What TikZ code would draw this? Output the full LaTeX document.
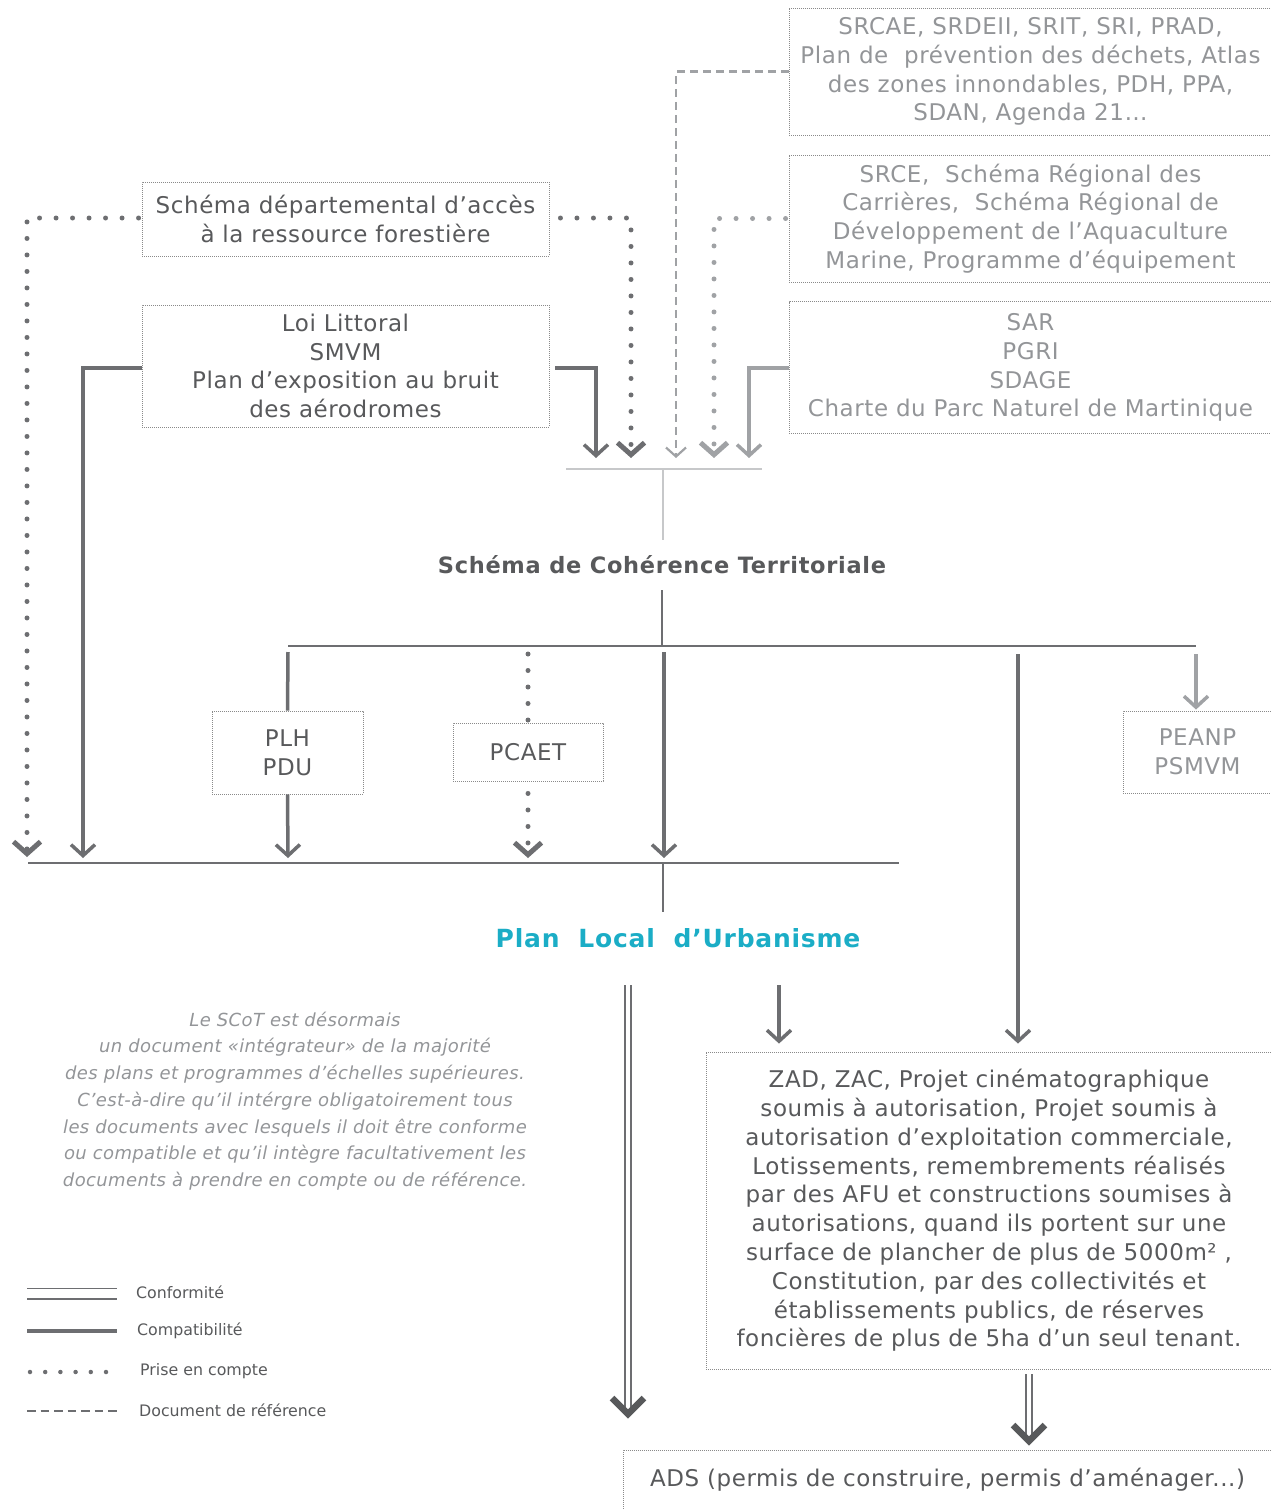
\documentclass[tikz,border=0pt]{standalone}
\usepackage{fontspec}
\setmainfont{DejaVu Sans}
\usetikzlibrary{arrows.meta,calc}
\definecolor{txtdark}{HTML}{58595B}
\definecolor{txtgray}{HTML}{939598}
\definecolor{compc}{HTML}{6D6E71}
\definecolor{lightc}{HTML}{A0A2A5}
\definecolor{boxc}{HTML}{8A8A8A}
\definecolor{tealc}{HTML}{1BADC6}
\definecolor{barlight}{HTML}{C7C8CA}
\definecolor{chevc}{HTML}{58595B}
\newfontfamily\boxfam[LetterSpace=2.5]{DejaVu Sans}
\newfontfamily\titlefam[LetterSpace=3]{DejaVu Sans}
\newfontfamily\notefam[LetterSpace=2]{DejaVu Sans}
\tikzset{
  box/.style={draw=boxc, line width=0.9pt, dash pattern=on 0.9pt off 1.1pt, inner sep=0pt, align=center, font={\boxfam\fontsize{23}{28.8}\selectfont}},
  darktxt/.style={text=txtdark},
  graytxt/.style={text=txtgray},
  comp/.style={draw=compc, line width=3.5pt, -{Straight Barb[sharp,length=11pt,width=24pt]}},
  complight/.style={comp, draw=lightc},
  pec/.style={draw=compc, line width=5pt, line cap=round, dash pattern=on 0pt off 16.5pt, -{Straight Barb[sharp,length=12pt,width=27pt,line width=5pt]}},
  peclight/.style={pec, draw=lightc},
  docref/.style={draw=lightc, line width=2.5pt, dash pattern=on 8pt off 5pt, -{Straight Barb[sharp,length=9pt,width=20pt,line width=2.2pt]}},
  conf/.style={draw=compc, line width=1.3pt, double=white, double distance=4.7pt},
  chev/.style={draw=chevc, line width=6.5pt, line cap=butt, line join=miter},
  bar/.style={draw=compc, line width=1.5pt},
  barl/.style={draw=barlight, line width=1.8pt},
  legtxt/.style={text=txtdark, anchor=west, inner sep=0pt, font={\fontsize{15.8}{18}\selectfont}},
}
\begin{document}
\begin{tikzpicture}[x=1pt,y=-1pt]
\useasboundingbox (0,0) rectangle (1270,1510);

% source boxes
\node[box, graytxt, minimum width=483pt, minimum height=127pt] (src1) at (1030.5,71.5)
  {SRCAE, SRDEII, SRIT, SRI, PRAD,\\Plan de\ \ prévention des déchets, Atlas\\des zones innondables, PDH, PPA,\\SDAN, Agenda 21…};
\node[box, graytxt, minimum width=483pt, minimum height=127pt] (src2) at (1030.5,218.5)
  {SRCE,\ \ Schéma Régional des\\Carrières,\ \ Schéma Régional de\\Développement de l’Aquaculture\\Marine, Programme d’équipement};
\node[box, graytxt, minimum width=483pt, minimum height=132pt] (src3) at (1030.5,367.5)
  {SAR\\PGRI\\SDAGE\\Charte du Parc Naturel de Martinique};
\node[box, darktxt, minimum width=407pt, minimum height=74pt] (sdf) at (345.5,219)
  {Schéma départemental d’accès\\à la ressource forestière};
\node[box, darktxt, minimum width=407pt, minimum height=122pt] (loi) at (345.5,366)
  {Loi Littoral\\SMVM\\Plan d’exposition au bruit\\des aérodromes};

% central nodes
\node[text=txtdark, font={\titlefam\fontsize{22.5}{26}\selectfont\bfseries}, minimum height=50pt, inner sep=0pt] (scot) at (662,565) {Schéma de Cohérence Territoriale};
\node[text=tealc, font={\titlefam\fontsize{25}{30}\selectfont\bfseries}, minimum height=52pt, inner sep=0pt] (plu) at (678,938) {Plan\ \ Local\ \ d’Urbanisme};

% middle boxes
\node[box, darktxt, minimum width=151pt, minimum height=83pt] (plh) at (287.5,752.5) {PLH\\PDU};
\node[box, darktxt, minimum width=150pt, minimum height=58pt] (pcaet) at (528,752) {PCAET};
\node[box, graytxt, minimum width=149pt, minimum height=82pt] (peanp) at (1197.5,752) {PEANP\\PSMVM};

% bottom boxes
\node[box, darktxt, minimum width=566pt, minimum height=317pt] (zad) at (989,1210.5)
  {ZAD, ZAC, Projet cinématographique\\soumis à autorisation, Projet soumis à\\autorisation d’exploitation commerciale,\\Lotissements, remembrements réalisés\\par des AFU et constructions soumises à\\autorisations, quand ils portent sur une\\surface de plancher de plus de 5000m²\ ,\\Constitution, par des collectivités et\\établissements publics, de réserves\\foncières de plus de 5ha d’un seul tenant.};
\node[box, darktxt, minimum width=649pt, minimum height=60pt] (ads) at (947.5,1480)
  {ADS (permis de construire, permis d’aménager...)};

% coordinates
\coordinate (t1) at (27,857);
\coordinate (t2) at (631,458);
\coordinate (t3) at (83,858);
\coordinate (t4) at (596,458);
\coordinate (t5) at (676,458);
\coordinate (t6) at (714,458);
\coordinate (t7) at (749,458);
\coordinate (barAL) at (566,469);
\coordinate (barAR) at (762,469);
\coordinate (barBL) at (288,646);
\coordinate (barBR) at (1196,646);
\coordinate (barCL) at (28,863);
\coordinate (barCR) at (899,863);
\coordinate (bPLH) at (288,858);
\coordinate (bPC) at (528,858);
\coordinate (bMid) at (664,858);
\coordinate (dbl1s) at (628,985);
\coordinate (dbl1e) at (628,1410);
\coordinate (zadin) at (779,985);

% connectors into the SCoT
\draw[pec] ([xshift=-3pt]sdf.west |- 0,218) -| (t1);
\draw[pec] ([xshift=11pt]sdf.east |- 0,218) -| (t2);
\draw[comp] (loi.west |- 0,368) -| (t3);
\draw[comp] ([xshift=6pt]loi.east |- 0,368) -| (t4);
\draw[docref] (src1.west) -| (t5);
\draw[peclight] ([xshift=-3pt]src2.west) -| (t6);
\draw[complight] (src3.west |- 0,368) -| (t7);

\draw[barl] (barAL) -- (barAR);
\draw[barl, line width=1.2pt] (663,469) -- (scot.north -| 663,0);
\draw[bar] (scot.south) -- (scot.south |- barBL);
\draw[bar] (barBL) -- (barBR);

% from the SCoT
\draw[comp, -] ([yshift=-6pt]barBL) -- (plh.north);
\draw[pec, -] (528,654) -- (pcaet.north);
\draw[comp] (664,652) -- (bMid);
\draw[comp, shorten >=8pt] (1018,654) -- (zad.north -| 1018,0);
\draw[complight, shorten >=1pt] (1196,654) -- (peanp.north -| 1196,0);
\draw[comp] (plh.south) -- (bPLH);
\draw[pec] ([yshift=-12pt]pcaet.south) -- (bPC);

\draw[bar, line width=2pt] (barCL) -- (barCR);
\draw[bar, line width=1.2pt] (663,863) -- (plu.north -| 663,0);

% from the PLU
\draw[conf] (dbl1s) -- (dbl1e);
\draw[chev] ([shift={(-16,-16)}]628,1414) -- (628,1414) -- ([shift={(16,-16)}]628,1414);
\draw[comp, shorten >=8pt] (zadin) -- (zad.north -| zadin);
\draw[conf, shorten <=5pt, shorten >=10pt] (zad.south -| 1029,0) -- (ads.north -| 1029,0);
\draw[chev] ([shift={(-16,-16)}]1029,1441) -- (1029,1441) -- ([shift={(16,-16)}]1029,1441);

% italic note
\node[text=txtgray, align=center, font={\notefam\fontsize{18}{26.7}\selectfont\itshape}, inner sep=0pt] (note) at (295,1101)
  {Le SCoT est désormais\\un document «intégrateur» de la majorité\\des plans et programmes d’échelles supérieures.\\C’est-à-dire qu’il intérgre obligatoirement tous\\les documents avec lesquels il doit être conforme\\ou compatible et qu’il intègre facultativement les\\documents à prendre en compte ou de référence.};

% legend
\coordinate (l1a) at (27,1293.5); \coordinate (l1b) at (117,1293.5);
\coordinate (l2a) at (27,1331); \coordinate (l2b) at (117,1331);
\coordinate (l3a) at (30,1372); \coordinate (l3b) at (106,1372);
\coordinate (l4a) at (27,1411); \coordinate (l4b) at (117,1411);
\draw[draw=compc, line width=1.5pt, double=white, double distance=9pt] (l1a) -- (l1b);
\draw[draw=compc, line width=4pt] (l2a) -- (l2b);
\draw[draw=compc, line width=4.5pt, line cap=round, dash pattern=on 0pt off 15.2pt] (l3a) -- (l3b);
\draw[draw=compc, line width=2.5pt, dash pattern=on 8.5pt off 5pt] (l4a) -- (l4b);
\node[legtxt] (lg1) at (136,1292) {Conformité};
\node[legtxt] (lg2) at (137,1331) {Compatibilité};
\node[legtxt] (lg3) at (140,1371) {Prise en compte};
\node[legtxt] (lg4) at (139,1410) {Document de référence};
\end{tikzpicture}
\end{document}
